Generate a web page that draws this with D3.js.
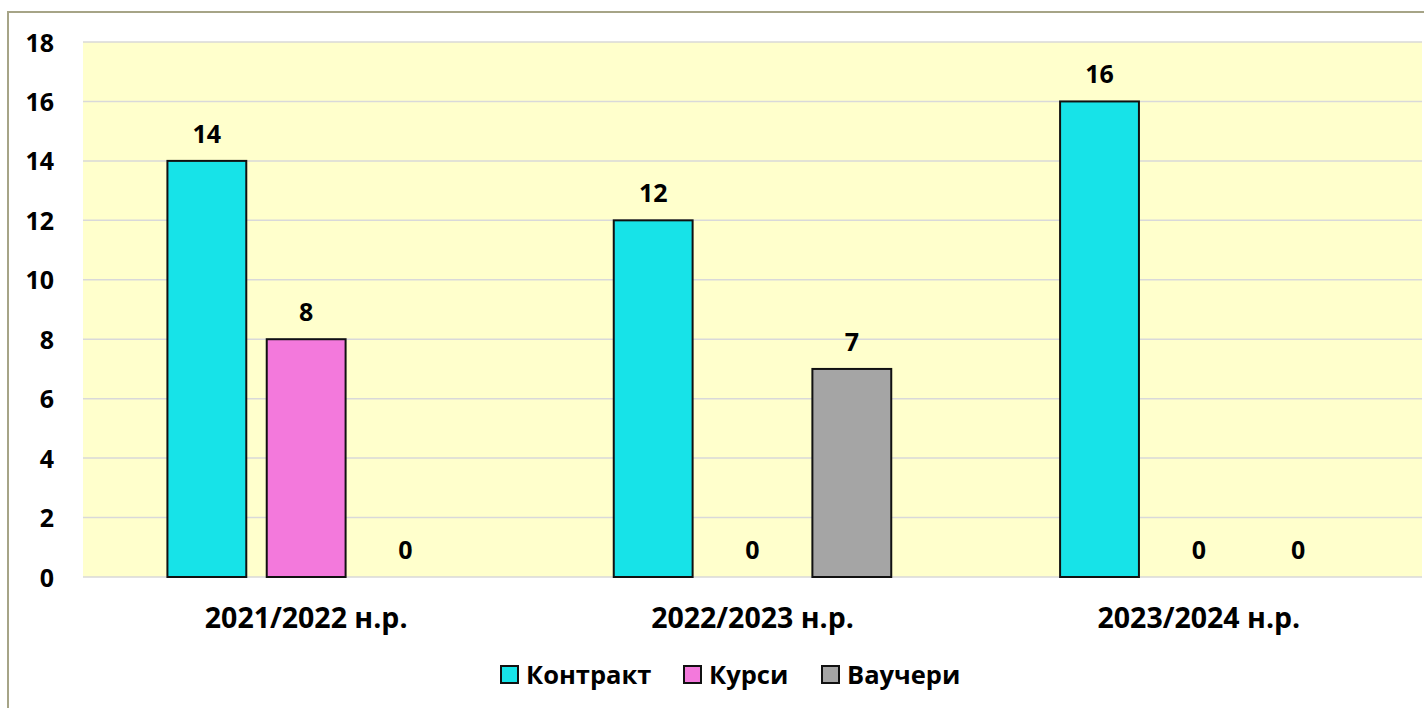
<!DOCTYPE html>
<html><head><meta charset="utf-8">
<script src="https://cdn.jsdelivr.net/npm/d3@7"></script>
<style>body{margin:0;background:#fff;} text{font-family:"Open Sans",sans-serif;font-weight:bold;}</style>
</head><body>
<svg id="c" width="1424" height="708"></svg>
<script>
const categories = ["2021/2022 н.р.", "2022/2023 н.р.", "2023/2024 н.р."];
const seriesNames = ["Контракт", "Курси", "Ваучери"];
const contract = [14, 12, 16];
const courses = [8, 0, 0];
const vouchers = [0, 7, 0];
const colors = ["#17e3e8", "#f379dc", "#a5a5a5"];
const yTicks = [0, 2, 4, 6, 8, 10, 12, 14, 16, 18];

const svg = d3.select("#c");
const m = {left: 83, right: 1422, top: 42, bottom: 577};

svg.append("path").attr("d", `M8,708 V12 H1424`).attr("fill", "none").attr("stroke", "#a6a487").attr("stroke-width", 2);

svg.append("rect").attr("x", m.left).attr("y", m.top).attr("width", m.right - m.left).attr("height", m.bottom - m.top).attr("fill", "#ffffcc");

const y = d3.scaleLinear().domain([0, 18]).range([m.bottom, m.top]);
const x0 = d3.scaleBand().domain(categories).range([m.left, m.right]).paddingInner(0).paddingOuter(0);
const x1 = d3.scaleBand().domain(seriesNames).range([0, x0.bandwidth()]).paddingInner(0.206).paddingOuter(0.85);

svg.append("g").selectAll("line").data(yTicks).join("line")
  .attr("x1", m.left).attr("x2", m.right).attr("y1", d => y(d)).attr("y2", d => y(d))
  .attr("stroke", "#d9d9d9").attr("stroke-width", 1.5);

const yAxis = d3.axisLeft(y).tickValues(yTicks).tickSize(0).tickPadding(0);
const ya = svg.append("g").attr("transform", `translate(54,0)`).call(yAxis);
ya.select(".domain").remove();
ya.selectAll("text").attr("font-size", 25).attr("fill", "#000").attr("text-anchor", "end").attr("dy", "0.36em");

const xAxis = d3.axisBottom(x0).tickSize(0).tickPadding(0);
const xa = svg.append("g").attr("transform", `translate(0,618)`).call(xAxis);
xa.select(".domain").remove();
xa.selectAll("text").attr("font-size", 28.5).attr("fill", "#000").attr("dy", "0.36em");

const data = categories.map((c, i) => ({cat: c, vals: [contract[i], courses[i], vouchers[i]]}));
const groups = svg.append("g").selectAll("g").data(data).join("g").attr("transform", d => `translate(${x0(d.cat)},0)`);
groups.selectAll("rect").data(d => d.vals.map((v, j) => ({v, s: seriesNames[j], j}))).join("rect")
  .filter(d => d.v > 0)
  .attr("x", d => x1(d.s)).attr("width", x1.bandwidth())
  .attr("y", d => y(d.v)).attr("height", d => y(0) - y(d.v))
  .attr("fill", d => colors[d.j]).attr("stroke", "#111").attr("stroke-width", 2);
groups.selectAll("text.lbl").data(d => d.vals.map((v, j) => ({v, s: seriesNames[j], j}))).join("text")
  .attr("class", "lbl")
  .attr("x", d => x1(d.s) + x1.bandwidth() / 2).attr("y", d => y(d.v) - 27)
  .attr("dy", "0.36em")
  .attr("text-anchor", "middle").attr("font-size", 25).attr("fill", "#000").text(d => d.v);

// legend
const legX = [500, 683, 821];
const leg = svg.append("g").selectAll("g").data(seriesNames).join("g").attr("transform", (d, i) => `translate(${legX[i]},674)`);
leg.append("rect").attr("x", 1).attr("y", -8).attr("width", 17).attr("height", 17).attr("fill", (d, i) => colors[i]).attr("stroke", "#111").attr("stroke-width", 2);
leg.append("text").attr("x", 26).attr("y", 1).attr("dy", "0.36em").attr("font-size", 25.5).attr("fill", "#000").text(d => d);
</script>
</body></html>
